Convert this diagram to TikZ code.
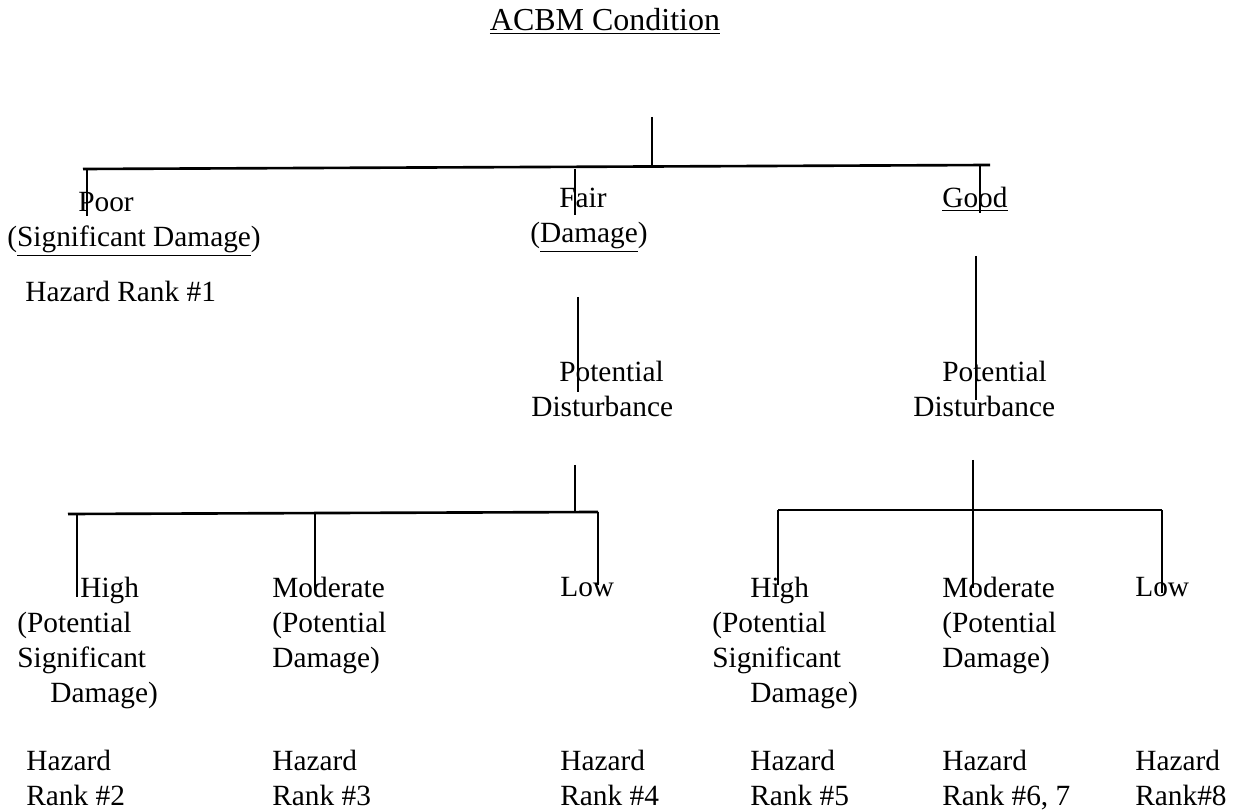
\documentclass[tikz,border=0pt]{standalone}
\usepackage{fontspec}
\setmainfont{Liberation Serif}
\usetikzlibrary{calc}

\begin{document}
\begin{tikzpicture}[
    x=0.02cm, y=-0.02cm,
    font=\fontsize{16.7}{20}\selectfont,
    lbl/.style={anchor=base west, align=left, inner sep=0pt},
    bar/.style={line width=1.5pt},
    link/.style={line width=1.1pt},
  ]
    \useasboundingbox (0,0) rectangle (1235,810);

    \node[anchor=base, inner sep=0pt, font=\fontsize{18.2}{22}\selectfont] (title) at (605,31) {\underline{ACBM Condition}};

    \node[lbl] (poor) at (7,247) {\hspace*{1.42cm}Poor\\(\underline{Significant Damage})};
    \node[lbl] (rank1) at (25,302) {Hazard Rank \#1};
    \node[lbl] (fair) at (530,243) {\hspace*{0.58cm}Fair\\(\underline{Damage})};
    \node[lbl] (good) at (942,208) {\underline{Good}};
    \node[lbl] (fairpd) at (531,417) {\hspace*{0.56cm}Potential\\Disturbance};
    \node[lbl] (goodpd) at (913,417) {\hspace*{0.58cm}Potential\\Disturbance};

    \node[lbl] (fhigh) at (17,703) {\hspace*{1.26cm}High\\(Potential\\Significant\\\hspace*{0.66cm}Damage)};
    \node[lbl] (fmod) at (272,668) {Moderate\\(Potential\\Damage)};
    \node[lbl] (flow) at (560,597) {Low};
    \node[lbl] (ghigh) at (712,703) {\hspace*{0.76cm}High\\(Potential\\Significant\\\hspace*{0.76cm}Damage)};
    \node[lbl] (gmod) at (942,668) {Moderate\\(Potential\\Damage)};
    \node[lbl] (glow) at (1135,597) {Low};

    \node[lbl] (rank2) at (26,806) {Hazard\\Rank \#2};
    \node[lbl] (rank3) at (272,806) {Hazard\\Rank \#3};
    \node[lbl] (rank4) at (560,806) {Hazard\\Rank \#4};
    \node[lbl] (rank5) at (750,806) {Hazard\\Rank \#5};
    \node[lbl] (rank6) at (942,806) {Hazard\\Rank \#6, 7};
    \node[lbl] (rank8) at (1135,806) {Hazard\\Rank\#8};

    \coordinate (root) at (652,117);
    \coordinate (topL) at (83,169);
    \coordinate (topR) at (990,165);
    \coordinate (poorEnd) at (87,216);
    \coordinate (fairEnd) at (575,215);
    \coordinate (goodEnd) at (980,213);
    \coordinate (fairTop) at (578,297);
    \coordinate (fairBot) at (578,392);
    \coordinate (goodTop) at (976,256);
    \coordinate (goodBot) at (976,400);

    \coordinate (fstem) at (575,465);
    \coordinate (fbarL) at (68,514);
    \coordinate (fbarR) at (598,512);
    \coordinate (fhighEnd) at (77,597);
    \coordinate (fmodEnd) at (315,590);
    \coordinate (flowEnd) at (598,585);

    \coordinate (gstem) at (973,460);
    \coordinate (gbarL) at (778,510);
    \coordinate (gbarR) at (1162,510);
    \coordinate (ghighEnd) at (778,585);
    \coordinate (gmodEnd) at (973,588);
    \coordinate (glowEnd) at (1162,593);

    \draw[bar] (topL) -- (topR);
    \draw[link] (root) -- (root |- topR);
    \draw[link] (poorEnd |- topL) -- (poorEnd);
    \draw[link] (fairEnd |- topL) -- (fairEnd);
    \draw[link] (goodEnd |- topR) -- (goodEnd);
    \draw[link] (fairTop) -- (fairBot);
    \draw[link] (goodTop) -- (goodBot);

    \draw[bar] (fbarL) -- (fbarR);
    \draw[link] (fstem) -- (fstem |- fbarR);
    \draw[link] (fhighEnd |- fbarL) -- (fhighEnd);
    \draw[link] (fmodEnd |- fbarL) -- (fmodEnd);
    \draw[link] (fbarR) -- (flowEnd);

    \draw[bar] (gbarL) -- (gbarR);
    \draw[link] (gstem) -- (gmodEnd);
    \draw[link] (gbarL) -- (ghighEnd);
    \draw[link] (gbarR) -- (glowEnd);
  \end{tikzpicture}
\end{document}
